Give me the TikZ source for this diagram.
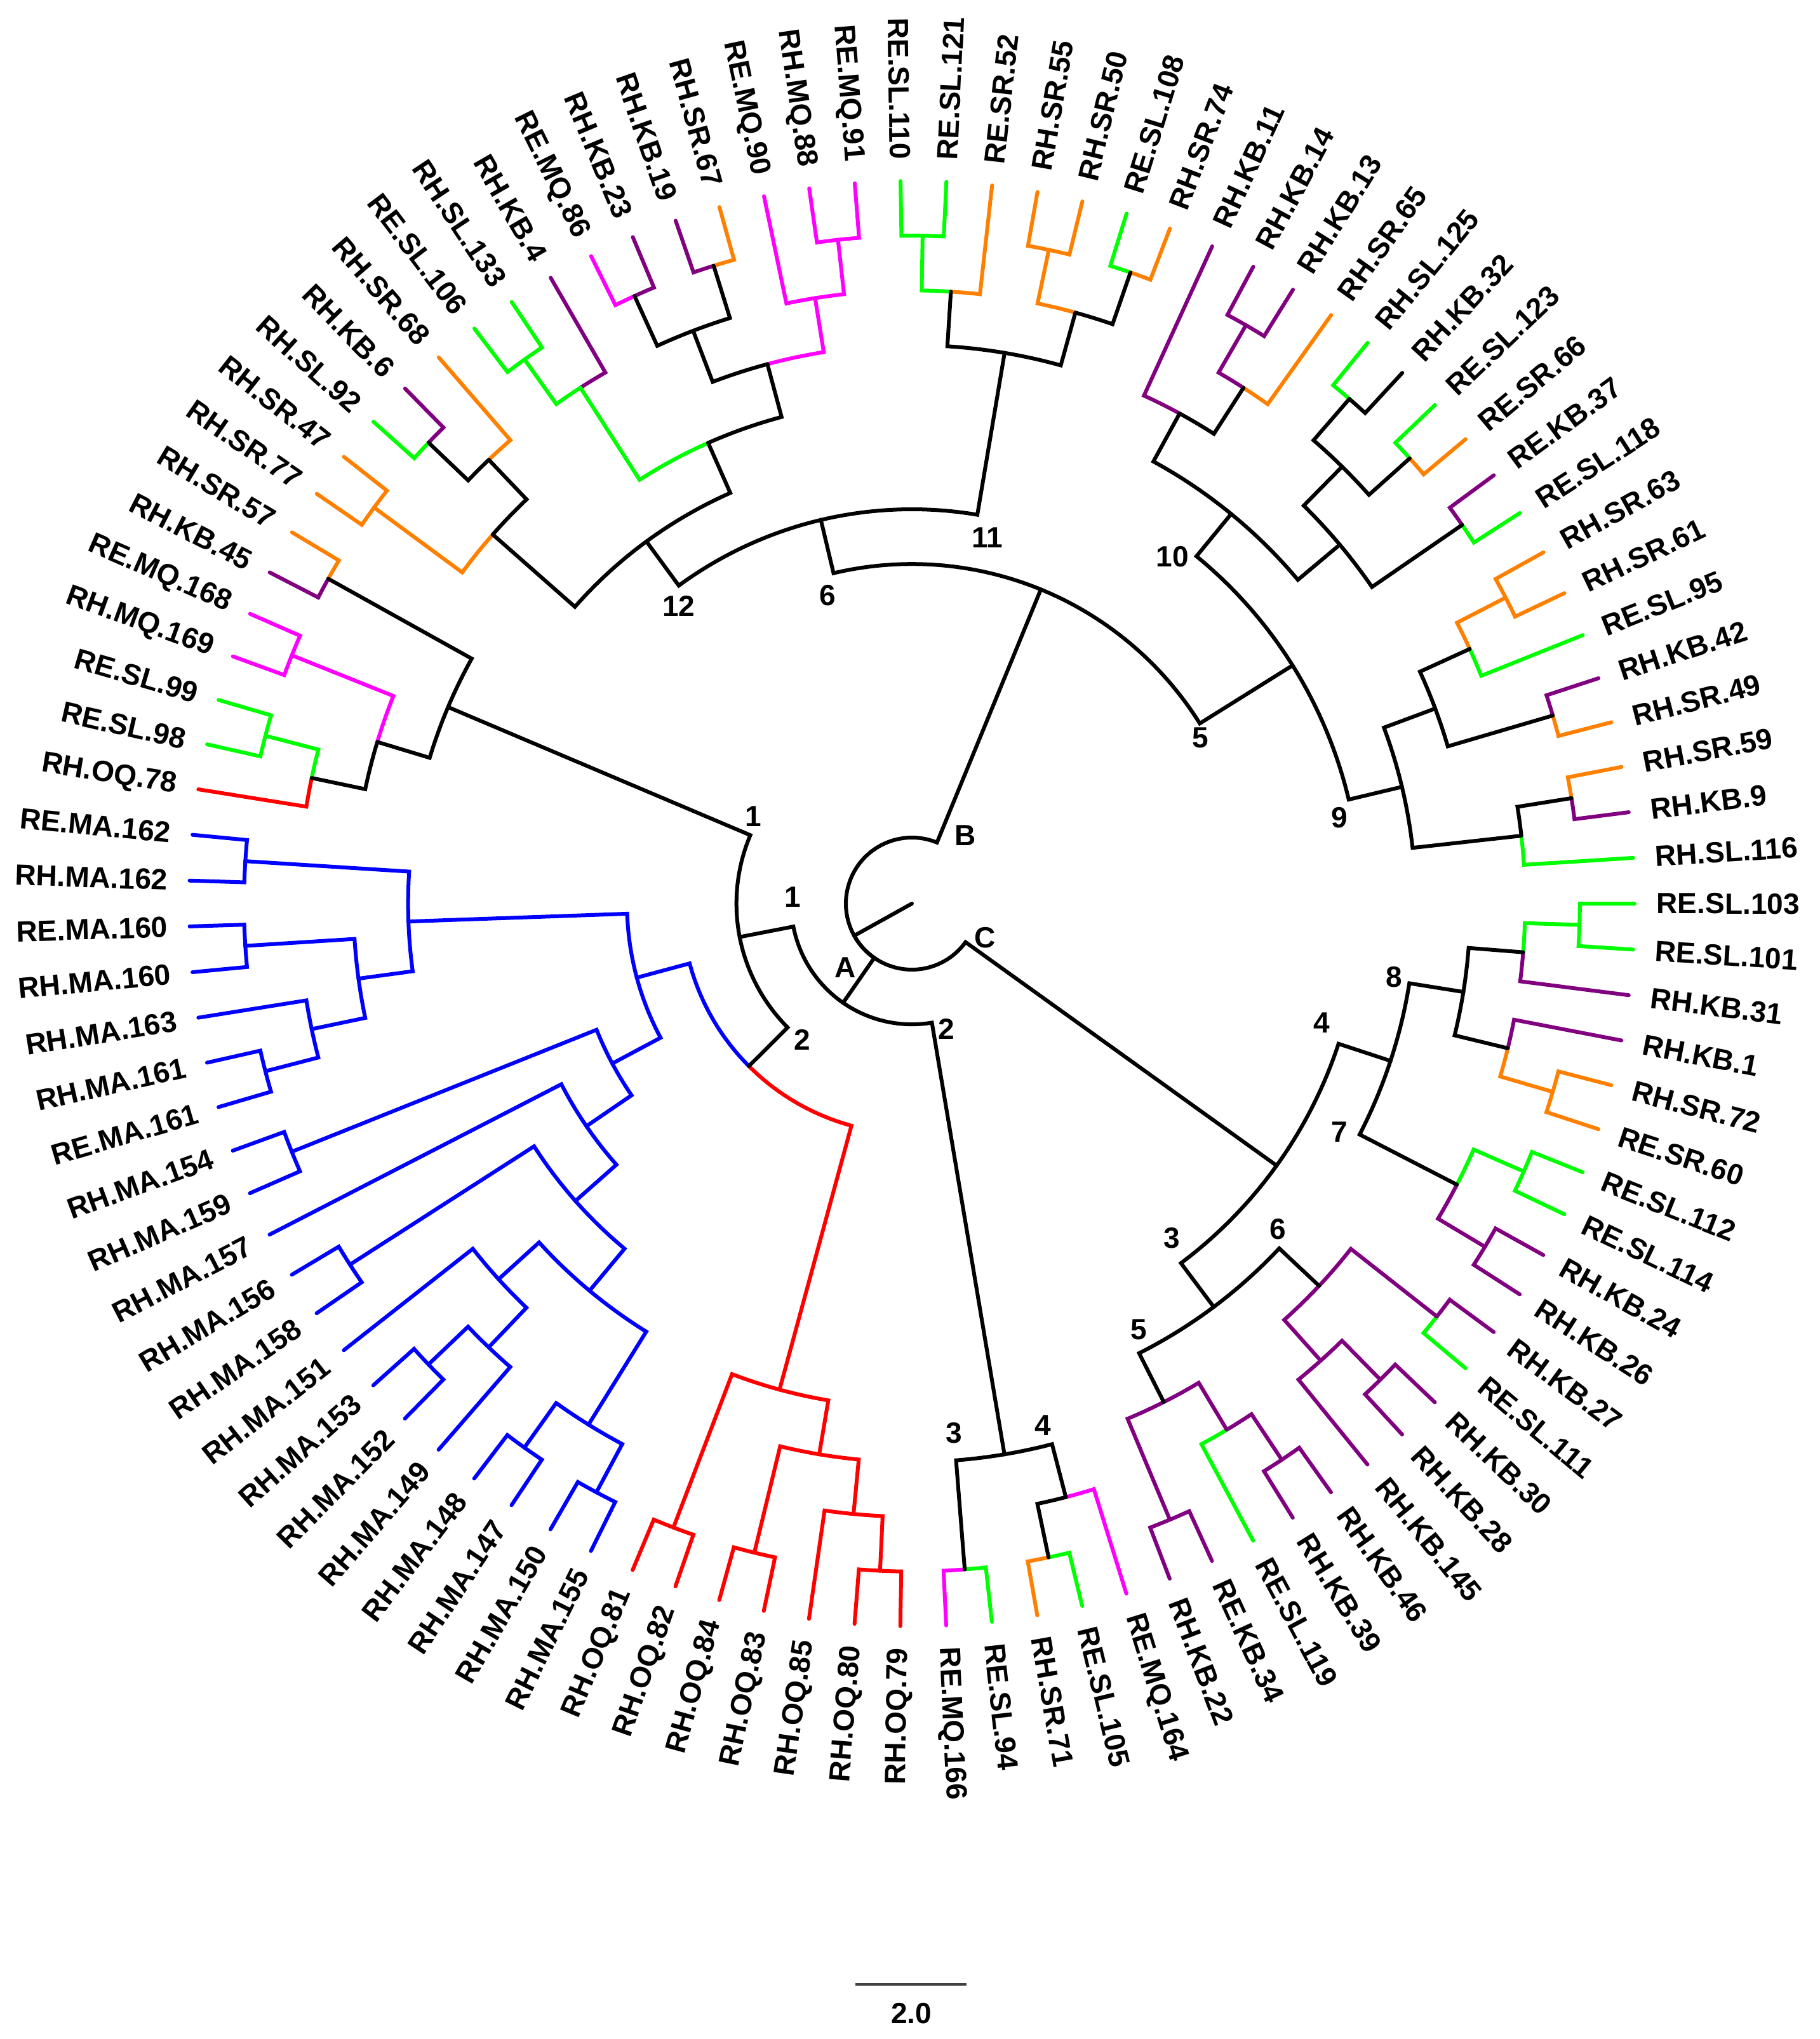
\documentclass[tikz,border=0pt]{standalone}
\usepackage{fontspec}
\setmainfont{Liberation Sans}
\definecolor{cG}{RGB}{0,255,0}
\definecolor{cO}{RGB}{255,128,0}
\definecolor{cP}{RGB}{128,0,128}
\definecolor{cM}{RGB}{255,0,255}
\definecolor{cR}{RGB}{255,0,0}
\definecolor{cB}{RGB}{0,0,255}
\definecolor{cK}{RGB}{0,0,0}
\tikzset{
  branch/.style={line width=0.06cm, line cap=round, line join=miter},
  leaflab/.style={inner sep=0pt, font=\fontsize{13.1}{15}\selectfont\bfseries},
  intlab/.style={inner sep=0pt, font=\fontsize{13.1}{15}\selectfont\bfseries}
}
\makeatletter
\newcommand\TLeaf[3]{%
  \pgfmathsetmacro\phy@a{90.9-3.63636*#2}%
  \expandafter\xdef\csname tra@#1\endcsname{\phy@a}%
  \expandafter\xdef\csname trh@#1\endcsname{0}%
  \expandafter\xdef\csname trr@#1\endcsname{11.38}%
  \coordinate (#1) at (\phy@a:11.38cm);
  \pgfmathparse{cos(\phy@a)>0 ? 1 : 0}%
  \ifdim\pgfmathresult pt>0.5pt
    \node[leaflab,rotate=\phy@a,anchor=west] (#1t) at (\phy@a:11.72cm) {#3};
  \else
    \pgfmathsetmacro\phy@b{\phy@a+180}%
    \node[leaflab,rotate=\phy@b,anchor=east] (#1t) at (\phy@a:11.72cm) {#3};
  \fi
}
\newcommand\TEdge[3]{%
  \edef\phy@pa{\csname tra@#2\endcsname}%
  \edef\phy@pr{\csname trr@#2\endcsname}%
  \edef\phy@ca{\csname tra@#3\endcsname}%
  \draw[branch,#1] (#2) arc[start angle=\phy@pa, end angle=\phy@ca, radius=\phy@pr cm] -- (#3);
}
\newcommand\TN[5]{%
  \edef\phy@x{\csname tra@#2\endcsname}%
  \edef\phy@y{\csname tra@#4\endcsname}%
  \edef\phy@hx{\csname trh@#2\endcsname}%
  \edef\phy@hy{\csname trh@#4\endcsname}%
  \pgfmathsetmacro\phy@a{(\phy@x+\phy@y)/2}%
  \pgfmathtruncatemacro\phy@h{max(\phy@hx,\phy@hy)+1}%
  \pgfmathsetmacro\phy@r{11.38-0.8617*\phy@h}%
  \expandafter\xdef\csname tra@#1\endcsname{\phy@a}%
  \expandafter\xdef\csname trh@#1\endcsname{\phy@h}%
  \expandafter\xdef\csname trr@#1\endcsname{\phy@r}%
  \coordinate (#1) at (\phy@a:\phy@r cm);
  \TEdge{#3}{#1}{#2}%
  \TEdge{#5}{#1}{#4}%
}
\newcommand\TRoot[4]{%
  \edef\phy@x{\csname tra@#2\endcsname}%
  \edef\phy@y{\csname tra@#3\endcsname}%
  \edef\phy@z{\csname tra@#4\endcsname}%
  \pgfmathsetmacro\phy@a{(\phy@x+\phy@y+\phy@z)/3}%
  \pgfmathsetmacro\phy@r{11.38-0.8617*12}%
  \expandafter\xdef\csname tra@#1\endcsname{\phy@a}%
  \expandafter\xdef\csname trr@#1\endcsname{\phy@r}%
  \coordinate (#1) at (\phy@a:\phy@r cm);
  \TEdge{cK}{#1}{#2}%
  \TEdge{cK}{#1}{#3}%
  \TEdge{cK}{#1}{#4}%
}
\makeatother
\begin{document}
\begin{tikzpicture}
\useasboundingbox (-14.36,-17.88) rectangle (14.29,14.23);
% ---------------- leaves ----------------
\TLeaf{L0}{99}{RE.SL.110}
\TLeaf{L1}{100}{RE.SL.121}
\TLeaf{L2}{101}{RE.SR.52}
\TLeaf{L3}{102}{RH.SR.55}
\TLeaf{L4}{103}{RH.SR.50}
\TLeaf{L5}{104}{RE.SL.108}
\TLeaf{L6}{105}{RH.SR.74}
\TLeaf{L7}{106}{RH.KB.11}
\TLeaf{L8}{107}{RH.KB.14}
\TLeaf{L9}{108}{RH.KB.13}
\TLeaf{L10}{109}{RH.SR.65}
\TLeaf{L11}{110}{RH.SL.125}
\TLeaf{L12}{111}{RH.KB.32}
\TLeaf{L13}{112}{RE.SL.123}
\TLeaf{L14}{113}{RE.SR.66}
\TLeaf{L15}{114}{RE.KB.37}
\TLeaf{L16}{115}{RE.SL.118}
\TLeaf{L17}{116}{RH.SR.63}
\TLeaf{L18}{117}{RH.SR.61}
\TLeaf{L19}{118}{RE.SL.95}
\TLeaf{L20}{119}{RH.KB.42}
\TLeaf{L21}{120}{RH.SR.49}
\TLeaf{L22}{121}{RH.SR.59}
\TLeaf{L23}{122}{RH.KB.9}
\TLeaf{L24}{123}{RH.SL.116}
\TLeaf{L25}{25}{RE.SL.103}
\TLeaf{L26}{26}{RE.SL.101}
\TLeaf{L27}{27}{RH.KB.31}
\TLeaf{L28}{28}{RH.KB.1}
\TLeaf{L29}{29}{RH.SR.72}
\TLeaf{L30}{30}{RE.SR.60}
\TLeaf{L31}{31}{RE.SL.112}
\TLeaf{L32}{32}{RE.SL.114}
\TLeaf{L33}{33}{RH.KB.24}
\TLeaf{L34}{34}{RH.KB.26}
\TLeaf{L35}{35}{RH.KB.27}
\TLeaf{L36}{36}{RE.SL.111}
\TLeaf{L37}{37}{RH.KB.30}
\TLeaf{L38}{38}{RH.KB.28}
\TLeaf{L39}{39}{RH.KB.145}
\TLeaf{L40}{40}{RH.KB.46}
\TLeaf{L41}{41}{RH.KB.39}
\TLeaf{L42}{42}{RE.SL.119}
\TLeaf{L43}{43}{RE.KB.34}
\TLeaf{L44}{44}{RH.KB.22}
\TLeaf{L45}{45}{RE.MQ.164}
\TLeaf{L46}{46}{RE.SL.105}
\TLeaf{L47}{47}{RH.SR.71}
\TLeaf{L48}{48}{RE.SL.94}
\TLeaf{L49}{49}{RE.MQ.166}
\TLeaf{L50}{50}{RH.OQ.79}
\TLeaf{L51}{51}{RH.OQ.80}
\TLeaf{L52}{52}{RH.OQ.85}
\TLeaf{L53}{53}{RH.OQ.83}
\TLeaf{L54}{54}{RH.OQ.84}
\TLeaf{L55}{55}{RH.OQ.82}
\TLeaf{L56}{56}{RH.OQ.81}
\TLeaf{L57}{57}{RH.MA.155}
\TLeaf{L58}{58}{RH.MA.150}
\TLeaf{L59}{59}{RH.MA.147}
\TLeaf{L60}{60}{RH.MA.148}
\TLeaf{L61}{61}{RH.MA.149}
\TLeaf{L62}{62}{RH.MA.152}
\TLeaf{L63}{63}{RH.MA.153}
\TLeaf{L64}{64}{RH.MA.151}
\TLeaf{L65}{65}{RH.MA.158}
\TLeaf{L66}{66}{RH.MA.156}
\TLeaf{L67}{67}{RH.MA.157}
\TLeaf{L68}{68}{RH.MA.159}
\TLeaf{L69}{69}{RH.MA.154}
\TLeaf{L70}{70}{RE.MA.161}
\TLeaf{L71}{71}{RH.MA.161}
\TLeaf{L72}{72}{RH.MA.163}
\TLeaf{L73}{73}{RH.MA.160}
\TLeaf{L74}{74}{RE.MA.160}
\TLeaf{L75}{75}{RH.MA.162}
\TLeaf{L76}{76}{RE.MA.162}
\TLeaf{L77}{77}{RH.OQ.78}
\TLeaf{L78}{78}{RE.SL.98}
\TLeaf{L79}{79}{RE.SL.99}
\TLeaf{L80}{80}{RH.MQ.169}
\TLeaf{L81}{81}{RE.MQ.168}
\TLeaf{L82}{82}{RH.KB.45}
\TLeaf{L83}{83}{RH.SR.57}
\TLeaf{L84}{84}{RH.SR.77}
\TLeaf{L85}{85}{RH.SR.47}
\TLeaf{L86}{86}{RH.SL.92}
\TLeaf{L87}{87}{RH.KB.6}
\TLeaf{L88}{88}{RH.SR.68}
\TLeaf{L89}{89}{RE.SL.106}
\TLeaf{L90}{90}{RH.SL.133}
\TLeaf{L91}{91}{RH.KB.4}
\TLeaf{L92}{92}{RE.MQ.86}
\TLeaf{L93}{93}{RH.KB.23}
\TLeaf{L94}{94}{RH.KB.19}
\TLeaf{L95}{95}{RH.SR.67}
\TLeaf{L96}{96}{RE.MQ.90}
\TLeaf{L97}{97}{RH.MQ.88}
\TLeaf{L98}{98}{RE.MQ.91}
% ---------------- clade B ----------------
\TN{N0a}{L0}{cG}{L1}{cG}
\TN{N0b}{N0a}{cG}{L2}{cO}
\TN{N3a}{L3}{cO}{L4}{cO}
\TN{N5a}{L5}{cG}{L6}{cO}
\TN{N3b}{N3a}{cO}{N5a}{cK}
\TN{N11}{N0b}{cK}{N3b}{cK}
\TN{N89a}{L89}{cG}{L90}{cG}
\TN{N89b}{N89a}{cG}{L91}{cP}
\TN{N92a}{L92}{cM}{L93}{cP}
\TN{N94a}{L94}{cP}{L95}{cO}
\TN{N92b}{N92a}{cK}{N94a}{cK}
\TN{N97a}{L97}{cM}{L98}{cM}
\TN{N96b}{L96}{cM}{N97a}{cM}
\TN{N92c}{N92b}{cK}{N96b}{cM}
\TN{Ny}{N89b}{cG}{N92c}{cK}
\TN{N84a}{L84}{cO}{L85}{cO}
\TN{N86a}{L86}{cG}{L87}{cP}
\TN{N86b}{N86a}{cK}{L88}{cO}
\TN{Nx}{N84a}{cO}{N86b}{cK}
\TN{N12}{Nx}{cK}{Ny}{cK}
\TN{N6}{N12}{cK}{N11}{cK}
\TN{N8a}{L8}{cP}{L9}{cP}
\TN{N8b}{N8a}{cP}{L10}{cO}
\TN{NAt}{L7}{cP}{N8b}{cK}
\TN{N11a}{L11}{cG}{L12}{cK}
\TN{N13a}{L13}{cG}{L14}{cO}
\TN{N11b}{N11a}{cK}{N13a}{cK}
\TN{N15a}{L15}{cP}{L16}{cG}
\TN{NBt}{N11b}{cK}{N15a}{cK}
\TN{N10}{NAt}{cK}{NBt}{cK}
\TN{N17a}{L17}{cO}{L18}{cO}
\TN{N17b}{N17a}{cO}{L19}{cG}
\TN{N20a}{L20}{cP}{L21}{cO}
\TN{N17c}{N17b}{cK}{N20a}{cK}
\TN{N22a}{L22}{cO}{L23}{cP}
\TN{N22b}{N22a}{cK}{L24}{cG}
\TN{N9}{N17c}{cK}{N22b}{cK}
\TN{N5}{N10}{cK}{N9}{cK}
\TN{NB}{N6}{cK}{N5}{cK}
% ---------------- clade C ----------------
\TN{C25a}{L25}{cG}{L26}{cG}
\TN{C25b}{C25a}{cG}{L27}{cP}
\TN{C29a}{L29}{cO}{L30}{cO}
\TN{C28b}{L28}{cP}{C29a}{cO}
\TN{C8}{C25b}{cK}{C28b}{cK}
\TN{C31a}{L31}{cG}{L32}{cG}
\TN{C33a}{L33}{cP}{L34}{cP}
\TN{C7}{C31a}{cG}{C33a}{cP}
\TN{C4}{C8}{cK}{C7}{cK}
\TN{C35a}{L35}{cP}{L36}{cG}
\TN{C37a}{L37}{cP}{L38}{cP}
\TN{C37b}{C37a}{cP}{L39}{cP}
\TN{C6}{C35a}{cP}{C37b}{cP}
\TN{C40a}{L40}{cP}{L41}{cP}
\TN{C40b}{C40a}{cP}{L42}{cG}
\TN{C43a}{L43}{cP}{L44}{cP}
\TN{C5}{C40b}{cP}{C43a}{cP}
\TN{C3}{C6}{cK}{C5}{cK}
\TN{NC}{C4}{cK}{C3}{cK}
% ---------------- clade A ----------------
\TN{A46a}{L46}{cG}{L47}{cO}
\TN{A45b}{L45}{cM}{A46a}{cK}
\TN{A48a}{L48}{cG}{L49}{cM}
\TN{ALow}{A45b}{cK}{A48a}{cK}
\TN{R50a}{L50}{cR}{L51}{cR}
\TN{R50b}{R50a}{cR}{L52}{cR}
\TN{R53a}{L53}{cR}{L54}{cR}
\TN{R50c}{R50b}{cR}{R53a}{cR}
\TN{R55a}{L55}{cR}{L56}{cR}
\TN{Red}{R50c}{cR}{R55a}{cR}
\TN{B57a}{L57}{cB}{L58}{cB}
\TN{B59a}{L59}{cB}{L60}{cB}
\TN{B57b}{B57a}{cB}{B59a}{cB}
\TN{B62a}{L62}{cB}{L63}{cB}
\TN{B61b}{L61}{cB}{B62a}{cB}
\TN{B61c}{B61b}{cB}{L64}{cB}
\TN{B4a}{B57b}{cB}{B61c}{cB}
\TN{B65a}{L65}{cB}{L66}{cB}
\TN{B5a}{B4a}{cB}{B65a}{cB}
\TN{B6}{B5a}{cB}{L67}{cB}
\TN{B68a}{L68}{cB}{L69}{cB}
\TN{B7}{B6}{cB}{B68a}{cB}
\TN{B70a}{L70}{cB}{L71}{cB}
\TN{B70b}{B70a}{cB}{L72}{cB}
\TN{B73a}{L73}{cB}{L74}{cB}
\TN{B70c}{B70b}{cB}{B73a}{cB}
\TN{B75a}{L75}{cB}{L76}{cB}
\TN{B4b}{B70c}{cB}{B75a}{cB}
\TN{Blue}{B7}{cB}{B4b}{cB}
\TN{N2}{Red}{cR}{Blue}{cB}
\TN{U78a}{L78}{cG}{L79}{cG}
\TN{U77b}{L77}{cR}{U78a}{cG}
\TN{U80a}{L80}{cM}{L81}{cM}
\TN{U77c}{U77b}{cK}{U80a}{cM}
\TN{U82a}{L82}{cP}{L83}{cO}
\TN{UL}{U77c}{cK}{U82a}{cK}
\TN{NA1}{UL}{cK}{N2}{cK}
\TN{NA}{NA1}{cK}{ALow}{cK}
% ---------------- root ----------------
\TRoot{Root}{NB}{NA}{NC}
\coordinate (Ctr) at (0,0);
\draw[branch,cK] (Ctr) -- (Root);
% ---------------- internal labels ----------------
\node[intlab] (t12) at (-3.673,4.69) {12};
\node[intlab] (t6b) at (-1.326,4.856) {6};
\node[intlab] (t11) at (1.19,5.76) {11};
\node[intlab] (t10) at (4.10,5.46) {10};
\node[intlab] (t5b) at (4.54,2.613) {5};
\node[intlab] (t1u) at (-2.50,1.375) {1};
\node[intlab] (t1l) at (-1.876,0.102) {1};
\node[intlab] (tB) at (0.837,1.073) {B};
\node[intlab] (tC) at (1.15,-0.534) {C};
\node[intlab] (tA) at (-1.05,-1.003) {A};
\node[intlab] (t2l) at (-1.73,-2.14) {2};
\node[intlab] (t2r) at (0.544,-1.973) {2};
\node[intlab] (t9) at (6.735,1.356) {9};
\node[intlab] (t8) at (7.596,-1.16) {8};
\node[intlab] (t4c) at (6.448,-1.88) {4};
\node[intlab] (t7) at (6.73,-3.60) {7};
\node[intlab] (t3c) at (4.09,-5.27) {3};
\node[intlab] (t6c) at (5.76,-5.13) {6};
\node[intlab] (t5c) at (3.57,-6.707) {5};
\node[intlab] (t3a) at (0.66,-8.34) {3};
\node[intlab] (t4a) at (2.06,-8.214) {4};
% ---------------- scale bar ----------------
\coordinate (sbL) at (-0.893,-17.02);
\coordinate (sbR) at (0.857,-17.02);
\draw[line width=0.04cm, black!75] (sbL) -- (sbR);
\node[intlab] (sbT) at (-0.01,-17.48) {2.0};
\end{tikzpicture}
\end{document}
